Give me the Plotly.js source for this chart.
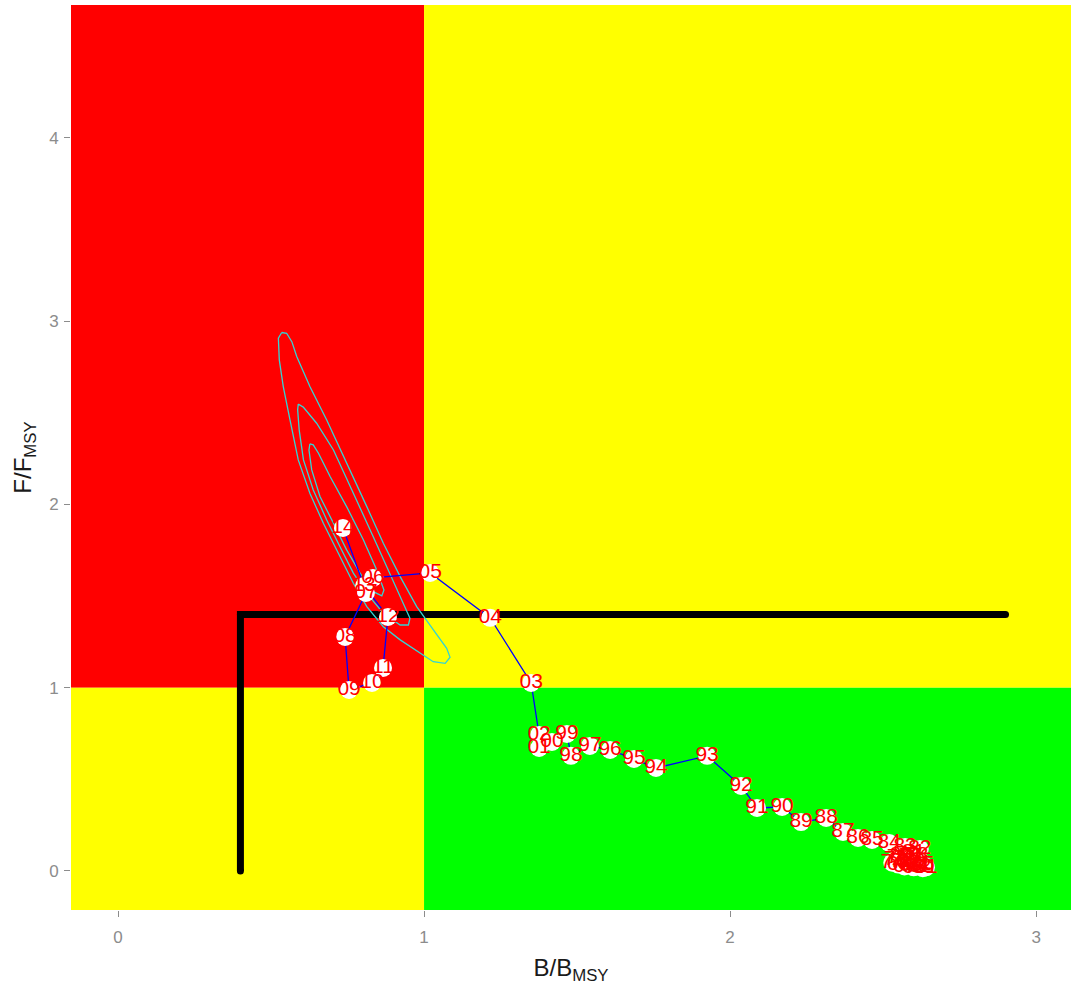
<!DOCTYPE html>
<html>
<head>
<meta charset="utf-8">
<script src="https://cdn.plot.ly/plotly-3.0.1.min.js"></script>
<style>
  html, body { margin: 0; padding: 0; background: #ffffff; }
  #kobe { width: 1071px; height: 989px; }
</style>
</head>
<body>
<div id="kobe"></div>
<script>
// Stock trajectory: year, biomass ratio B/Bmsy, fishing mortality ratio F/Fmsy
const years = [1960, 1961, 1962, 1963, 1964, 1965, 1966, 1967, 1968, 1969,
               1970, 1971, 1972, 1973, 1974, 1975, 1976, 1977, 1978, 1979,
               1980, 1981, 1982, 1983, 1984, 1985, 1986, 1987, 1988, 1989,
               1990, 1991, 1992, 1993, 1994, 1995, 1996, 1997, 1998, 1999,
               2000, 2001, 2002, 2003, 2004, 2005, 2006, 2007, 2008, 2009,
               2010, 2011, 2012, 2013, 2014];
const bRatio = [2.63, 2.64, 2.62, 2.60, 2.61, 2.63, 2.59, 2.57, 2.55, 2.58,
                2.60, 2.62, 2.56, 2.54, 2.53, 2.55, 2.57, 2.59, 2.61, 2.58,
                2.56, 2.60, 2.62, 2.572, 2.520, 2.464, 2.418, 2.369, 2.314, 2.232,
                2.170, 2.088, 2.036, 1.925, 1.758, 1.686, 1.608, 1.542, 1.480, 1.467,
                1.418, 1.376, 1.376, 1.350, 1.216, 1.020, 0.833, 0.810, 0.742, 0.755,
                0.830, 0.866, 0.882, 0.804, 0.735];
const fRatio = [0.015, 0.020, 0.025, 0.020, 0.030, 0.035, 0.030, 0.025, 0.035, 0.045,
                0.050, 0.040, 0.050, 0.060, 0.045, 0.070, 0.065, 0.075, 0.085, 0.090,
                0.085, 0.100, 0.120, 0.131, 0.153, 0.169, 0.180, 0.213, 0.289, 0.267,
                0.349, 0.344, 0.464, 0.628, 0.562, 0.611, 0.660, 0.682, 0.628, 0.748,
                0.704, 0.671, 0.742, 1.026, 1.381, 1.626, 1.599, 1.517, 1.277, 0.988,
                1.026, 1.108, 1.386, 1.555, 1.872];
const yearLabels = years.map(y => String(y % 100).padStart(2, '0'));

// Reference points and limit lines
const quadrantSplit = 1;
const limitB = [0.4, 0.4, 2.9];
const limitF = [0, 1.4, 1.4];

// Joint uncertainty contours for the final year (outer, middle, inner)
const outerB = [0.535, 0.524, 0.527, 0.540, 0.562, 0.589, 0.627, 0.671, 0.720, 0.769,
                0.813, 0.867, 0.922, 0.987, 1.030, 1.069, 1.085, 1.074, 1.030, 0.976,
                0.922, 0.867, 0.813, 0.747, 0.682, 0.627, 0.584, 0.568, 0.551, 0.535];
const outerF = [2.938, 2.907, 2.789, 2.643, 2.461, 2.243, 2.061, 1.897, 1.734, 1.570,
                1.442, 1.333, 1.261, 1.188, 1.142, 1.133, 1.166, 1.215, 1.315, 1.442,
                1.606, 1.788, 1.988, 2.225, 2.461, 2.643, 2.807, 2.888, 2.934, 2.938];
const middleB = [0.589, 0.587, 0.592, 0.606, 0.638, 0.682, 0.725, 0.769, 0.813, 0.867,
                 0.922, 0.949, 0.954, 0.932, 0.889, 0.834, 0.769, 0.704, 0.649, 0.606, 0.589];
const middleF = [2.547, 2.516, 2.407, 2.243, 2.079, 1.915, 1.770, 1.625, 1.515, 1.406,
                 1.342, 1.342, 1.379, 1.461, 1.625, 1.824, 2.061, 2.297, 2.443, 2.530, 2.547];
const innerB = [0.627, 0.624, 0.633, 0.660, 0.704, 0.747, 0.791, 0.834, 0.862, 0.869,
                0.845, 0.802, 0.747, 0.693, 0.655, 0.638, 0.627];
const innerF = [2.330, 2.297, 2.188, 2.043, 1.897, 1.752, 1.625, 1.524, 1.501, 1.533,
                1.643, 1.806, 1.988, 2.152, 2.279, 2.325, 2.330];

const RED = '#FF0000', YELLOW = '#FFFF00', GREEN = '#00FF00';
const CONTOUR = '#33d4d4';
const FONT = 'Liberation Sans, Arial, sans-serif';

function quad(x0, x1, y0, y1, color) {
  return { type: 'rect', xref: 'x', yref: 'y', x0: x0, x1: x1, y0: y0, y1: y1,
           fillcolor: color, line: { width: 0 }, layer: 'below' };
}

const contourStyle = { color: CONTOUR, width: 1.3 };

const traces = [
  { x: limitB, y: limitF, mode: 'lines+markers', hoverinfo: 'skip',
    line: { color: '#000000', width: 7 }, marker: { color: '#000000', size: 7 } },
  { x: outerB, y: outerF, mode: 'lines', hoverinfo: 'skip', line: contourStyle },
  { x: middleB, y: middleF, mode: 'lines', hoverinfo: 'skip', line: contourStyle },
  { x: innerB, y: innerF, mode: 'lines', hoverinfo: 'skip', line: contourStyle },
  { x: bRatio, y: fRatio, mode: 'lines', hoverinfo: 'skip',
    line: { color: '#0000FF', width: 1.3 } },
  { x: bRatio, y: fRatio, mode: 'markers+text', text: yearLabels,
    textposition: 'middle center', hoverinfo: 'skip',
    marker: { color: '#FFFFFF', size: 18, line: { width: 0 } },
    textfont: { family: FONT, size: 21, color: RED } }
];

const axisCommon = {
  showgrid: false, zeroline: false, showline: false,
  ticks: 'outside', ticklen: 6, tickcolor: '#8c8c8c', tickwidth: 1,
  tickfont: { family: FONT, size: 17, color: '#8c8c8c' },
  dtick: 1, tick0: 0, fixedrange: true
};

const layout = {
  width: 1071, height: 989,
  margin: { l: 71, r: 0, t: 5, b: 79 },
  paper_bgcolor: '#FFFFFF', plot_bgcolor: '#FFFFFF',
  showlegend: false,
  xaxis: Object.assign({}, axisCommon, {
    range: [-0.1536, 3.114],
    ticklabelstandoff: 6,
    title: { text: 'B/B<sub>MSY</sub>', standoff: 12,
             font: { family: FONT, size: 24, color: '#1a1a1a' } }
  }),
  yaxis: Object.assign({}, axisCommon, {
    range: [-0.213, 4.725],
    ticklabelstandoff: 2,
    title: { text: 'F/F<sub>MSY</sub>', standoff: 10,
             font: { family: FONT, size: 24, color: '#1a1a1a' } }
  }),
  shapes: [
    quad(-1, quadrantSplit, quadrantSplit, 10, RED),
    quad(quadrantSplit, 10, quadrantSplit, 10, YELLOW),
    quad(-1, quadrantSplit, -1, quadrantSplit, YELLOW),
    quad(quadrantSplit, 10, -1, quadrantSplit, GREEN)
  ]
};

Plotly.newPlot('kobe', traces, layout, { displayModeBar: false, staticPlot: true });
</script>
</body>
</html>
